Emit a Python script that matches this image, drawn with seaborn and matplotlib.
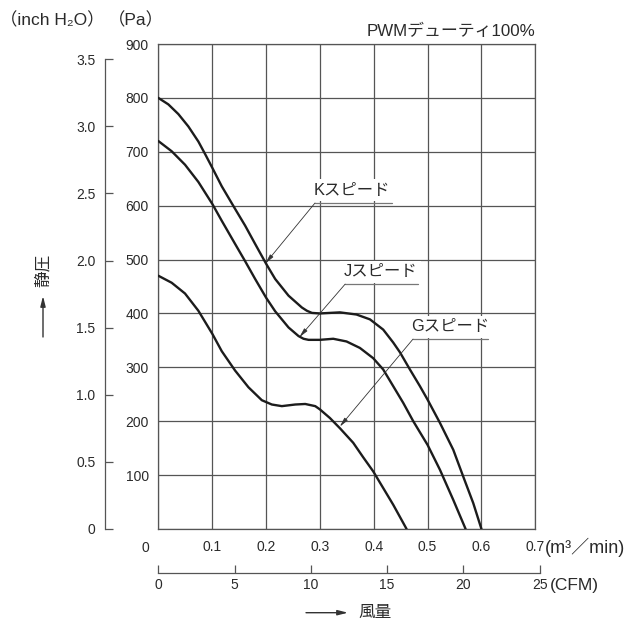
import numpy as np
import pandas as pd
import matplotlib
matplotlib.use("Agg")
import matplotlib.pyplot as plt
import seaborn as sns

# ---------------- data ----------------
k_flow = [0.0, 0.0186, 0.0372, 0.0558, 0.0744, 0.0868, 0.1004, 0.1178, 0.1426, 0.1612,
          0.1798, 0.2003, 0.2170, 0.2418, 0.2666, 0.2759, 0.2852, 0.3000, 0.3372, 0.3680,
          0.3930, 0.4176, 0.4362, 0.4486, 0.4672, 0.4858, 0.5000, 0.5229, 0.5477, 0.5663,
          0.5848, 0.6000]
k_pa = [800, 788, 770, 747, 719, 696, 670, 636, 594, 563,
        529, 492, 464, 433, 411, 405, 401, 400, 402, 398,
        389, 370, 346, 328, 296, 265, 240, 197, 147, 97,
        48, 0]

j_flow = [0.0, 0.0248, 0.0496, 0.0744, 0.1004, 0.1178, 0.1426, 0.1612, 0.1798, 0.2003,
          0.2170, 0.2418, 0.2604, 0.2697, 0.2790, 0.3000, 0.3248, 0.3495, 0.3743, 0.3990,
          0.4176, 0.4362, 0.4548, 0.4734, 0.5000, 0.5229, 0.5477, 0.5706]
j_pa = [720, 701, 676, 644, 603, 572, 529, 497, 464, 429,
        404, 374, 358, 353, 351, 351, 353, 348, 336, 317,
        296, 265, 234, 200, 156, 110, 54, 0]

g_flow = [0.0, 0.0248, 0.0496, 0.0744, 0.1004, 0.1178, 0.1426, 0.1674, 0.1922, 0.2108,
          0.2294, 0.2542, 0.2728, 0.2914, 0.3000, 0.3186, 0.3372, 0.3619, 0.3805, 0.3990,
          0.4176, 0.4362, 0.4610]
g_pa = [470, 457, 437, 405, 362, 330, 294, 263, 239, 231,
        228, 231, 232, 228, 222, 206, 187, 160, 133, 107,
        76, 45, 0]

speed_names = ["Kスピード", "Jスピード", "Gスピード"]

x_ticks = [0.0, 0.1, 0.2, 0.3, 0.4, 0.5, 0.6, 0.7]
x_tick_labels = ["", "0.1", "0.2", "0.3", "0.4", "0.5", "0.6", "0.7"]
pa_ticks = [0, 100, 200, 300, 400, 500, 600, 700, 800, 900]
pa_tick_labels = ["", "100", "200", "300", "400", "500", "600", "700", "800", "900"]
inch_ticks = [0, 0.5, 1.0, 1.5, 2.0, 2.5, 3.0, 3.5]
inch_tick_labels = ["0", "0.5", "1.0", "1.5", "2.0", "2.5", "3.0", "3.5"]
cfm_ticks = [0, 5, 10, 15, 20, 25]
cfm_tick_labels = ["0", "5", "10", "15", "20", "25"]

title_text = "PWMデューティ100%"
y_label = "静圧"
x_label = "風量"

PA_PER_INCH = 249.089
M3MIN_PER_CFM = 0.0283168
X_MAX = 0.7
PA_MAX = 900

# ---------------- figure ----------------
sns.set_style("white")
plt.rcParams["font.family"] = ["Liberation Sans", "Noto Sans CJK JP", "DejaVu Sans"]

W, H = 638, 622
AX_L, AX_B, AX_W, AX_H = 158.3, 93, 377, 485   # pixels
fig = plt.figure(figsize=(W / 100, H / 100), dpi=100)
ax = fig.add_axes([AX_L / W, AX_B / H, AX_W / W, AX_H / H])

df = pd.concat([
    pd.DataFrame({"flow": k_flow, "pa": k_pa, "speed": speed_names[0]}),
    pd.DataFrame({"flow": j_flow, "pa": j_pa, "speed": speed_names[1]}),
    pd.DataFrame({"flow": g_flow, "pa": g_pa, "speed": speed_names[2]}),
])

sns.lineplot(data=df, x="flow", y="pa", hue="speed", units="speed", estimator=None,
             palette={n: "#1c1c1c" for n in speed_names}, linewidth=1.7,
             legend=False, ax=ax, zorder=5)
for ln in ax.lines:
    ln.set_solid_joinstyle("round")

grid_c = "#555555"
text_c = "#2a2a2a"
ax.set_xlim(0, X_MAX)
ax.set_ylim(0, PA_MAX)
ax.set_xticks(x_ticks)
ax.set_xticklabels(x_tick_labels)
ax.set_yticks(pa_ticks)
ax.set_yticklabels(pa_tick_labels)
ax.grid(True, color=grid_c, linewidth=0.9)
ax.set_axisbelow(True)
ax.set_xlabel("")
ax.set_ylabel("")
for s in ax.spines.values():
    s.set_color(grid_c)
    s.set_linewidth(0.9)
ax.tick_params(axis="x", length=0, pad=8, labelsize=10, labelcolor=text_c)
ax.tick_params(axis="y", length=0, pad=6.7, labelsize=10, labelcolor=text_c)

# "0" of the m3/min axis sits left of the origin
ax.annotate("0", xy=(0, 0), xycoords="data", xytext=(-13, -18.7),
            textcoords="offset pixels", ha="center", va="center",
            fontsize=10, color=text_c)
ax.annotate("(m³／min)", xy=(X_MAX, 0), xycoords="data", xytext=(10, -18.7),
            textcoords="offset pixels", ha="left", va="center",
            fontsize=13, color=text_c, annotation_clip=False)

# inch H2O axis
sec_y = ax.secondary_yaxis((105 - AX_L) / AX_W,
                           functions=(lambda p: p / PA_PER_INCH, lambda i: i * PA_PER_INCH))
sec_y.set_yticks(inch_ticks)
sec_y.set_yticklabels(inch_tick_labels)
sec_y.spines["right"].set_visible(False)
sec_y.spines["left"].set_bounds(0, 3.5)
sec_y.spines["left"].set_color(grid_c)
sec_y.spines["left"].set_linewidth(0.9)
sec_y.tick_params(direction="in", length=6, width=0.9, color=grid_c, pad=7,
                  labelsize=10, labelcolor=text_c)

# CFM axis (its own axes so that the 25 CFM tick, just past 0.7 m3/min, is kept)
cfm_max = cfm_ticks[-1]
cfm_w = AX_W * cfm_max * M3MIN_PER_CFM / X_MAX
ax_cfm = fig.add_axes([AX_L / W, (H - 573) / H, cfm_w / W, 1e-4])
ax_cfm.set_xlim(0, cfm_max)
ax_cfm.set_yticks([])
ax_cfm.set_xticks(cfm_ticks)
ax_cfm.set_xticklabels(cfm_tick_labels)
ax_cfm.patch.set_visible(False)
for side in ["left", "right", "top"]:
    ax_cfm.spines[side].set_visible(False)
ax_cfm.spines["bottom"].set_color(grid_c)
ax_cfm.spines["bottom"].set_linewidth(0.9)
ax_cfm.tick_params(axis="x", bottom=True, top=False, direction="in", length=6,
                   width=0.9, color=grid_c, pad=3.6, labelsize=10, labelcolor=text_c)
ax_cfm.annotate("(CFM)", xy=(cfm_max, 0), xycoords="data", xytext=(10, -12.7),
                textcoords="offset pixels", ha="left", va="center",
                fontsize=12.5, color=text_c, annotation_clip=False)

# curve labels with leader arrows
labels_layout = [
    # text centre, underline x-range & y, arrow tip
    dict(text=speed_names[0], tc=(0.359, 629), ux=(0.291, 0.433), uy=605, tip=(0.199, 493)),
    dict(text=speed_names[1], tc=(0.412, 477), ux=(0.347, 0.483), uy=454.5, tip=(0.262, 356)),
    dict(text=speed_names[2], tc=(0.542, 375), ux=(0.473, 0.613), uy=352.5, tip=(0.337, 190)),
]
for L in labels_layout:
    ax.text(L["tc"][0], L["tc"][1], L["text"], ha="center", va="center",
            fontsize=11.8, color=text_c, zorder=6,
            bbox=dict(facecolor="white", edgecolor="none", pad=2.5))
    ax.plot(list(L["ux"]), [L["uy"], L["uy"]], color="#777777", lw=0.9, zorder=7)
    ax.annotate("", xy=L["tip"], xycoords="data", xytext=(L["ux"][0], L["uy"]),
                textcoords="data",
                arrowprops=dict(arrowstyle="-|>,head_length=0.55,head_width=0.12",
                                color="#333333", lw=0.6, shrinkA=0, shrinkB=0),
                zorder=7)

# titles and axis captions
fig.text(535 / W, 1 - 31 / H, title_text, ha="right", va="center",
         fontsize=12.2, color=text_c)
fig.text(52 / W, 1 - 20 / H, "（inch H₂O）", ha="center", va="center",
         fontsize=12.5, color=text_c)
fig.text(136 / W, 1 - 20 / H, "（Pa）", ha="center", va="center",
         fontsize=12.5, color=text_c)

fig.text(43 / W, 1 - 270 / H, y_label, rotation=90, ha="center", va="center",
         fontsize=12, color=text_c)
fig.add_artist(matplotlib.patches.FancyArrowPatch(
    (43 / W, 1 - 337 / H), (43 / W, 1 - 296 / H), transform=fig.transFigure,
    arrowstyle="-|>,head_length=0.6,head_width=0.15", color="#333333", lw=1.0,
    mutation_scale=10, shrinkA=0, shrinkB=0))

fig.text(375 / W, 1 - 612.7 / H, x_label, ha="center", va="center",
         fontsize=12, color=text_c)
fig.add_artist(matplotlib.patches.FancyArrowPatch(
    (306 / W, 1 - 612.7 / H), (348 / W, 1 - 612.7 / H), transform=fig.transFigure,
    arrowstyle="-|>,head_length=0.6,head_width=0.15", color="#333333", lw=1.0,
    mutation_scale=10, shrinkA=0, shrinkB=0))

fig.savefig("out.png", dpi=100)
